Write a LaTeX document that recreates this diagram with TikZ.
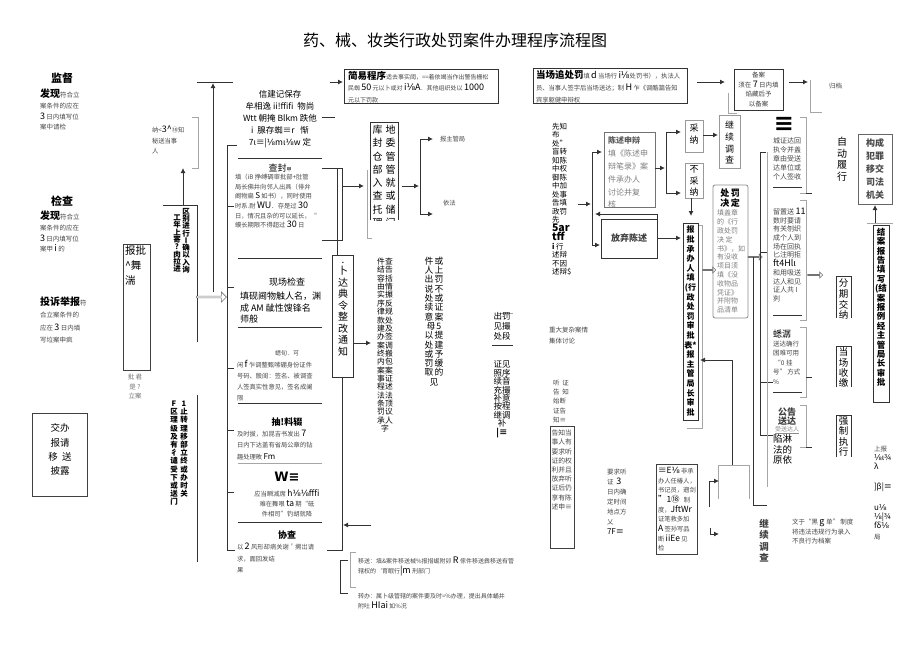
\documentclass[tikz,border=0pt]{standalone}
\usepackage{fontspec}
\setmainfont{Noto Sans CJK SC}
\newfontfamily\dvf{DejaVu Sans}
\usetikzlibrary{arrows.meta,shapes.arrows}
\newcommand\myfs[2]{\fontsize{#1}{#2}\selectfont}
\newcommand\ei{{\dvf ⅛}}
\begin{document}
\begin{tikzpicture}[x=1pt,y=-1pt,
  every node/.style={inner sep=0pt, outer sep=0pt},
  ln/.style={line width=0.9pt, draw=black!80},
  gl/.style={line width=0.8pt, draw=black!35},
  ar/.style={ln, -{Latex[length=5pt,width=5pt]}},
  gbx/.style={line width=0.8pt, draw=black!45},
  harr/.style={single arrow, draw=black!55, fill=white, minimum height=#1, minimum width=7pt, single arrow head extend=1.5pt, line width=0.6pt},
  sm/.style={font=\myfs{6.3}{9.7}, text=black!72, align=left, anchor=north west},
  vt/.style={align=center, anchor=north},
]
\useasboundingbox (0,0) rectangle (920,651);
\fill[white] (0,0) rectangle (920,651);

% title
\node[font=\myfs{16}{16}] (title) at (455,40) {药、械、妆类行政处罚案件办理程序流程图};

% left column
\node[font=\myfs{11}{11}\bfseries] (jd) at (62,78) {监督};
\node[sm, font=\myfs{6.5}{10.7}] (jdt) at (40,89) {{\myfs{10}{10.7}\bfseries\color{black}发现}符合立\\案条件的应在\\{\myfs{9}{10.7}\color{black}3} 日内填写位\\案中请检};
\node[font=\myfs{11}{11}\bfseries] (jc) at (62,201) {检查};
\node[sm, font=\myfs{6.5}{10.7}] (jct) at (40,211) {{\myfs{10}{10.7}\bfseries\color{black}发现}符合立\\案条件的应在\\{\myfs{9}{10.7}\color{black}3} 日内填写位\\案甲 {\myfs{9}{10.7}\color{black}i} 的};
\node[sm, font=\myfs{6.5}{12.3}] (ts) at (40,297) {{\myfs{10}{12.3}\bfseries\color{black}投诉举报}符\\合立案条件的\\应在 {\myfs{9}{12}\color{black}3} 日内填\\写垃案申疯};

\node[draw=black!75, line width=0.9pt, minimum width=55pt, minimum height=83pt] (jbb) at (59.5,454.5) {};
\node[align=center, font=\myfs{9.5}{14.3}] (jbt) at (60,449.5) {交办\\报请\\移\ \ 送\\披露};

\node[draw=black!75, line width=0.9pt, minimum width=27pt, minimum height=126pt] (bpb) at (136.5,307) {};
\node[anchor=north west, align=left, font=\myfs{10.5}{15}] (bpt) at (125,246) {报批\\\^{}舞\\湍};
\node[align=center, font=\myfs{6.5}{9.5}, text=black!55] (pj) at (135,387) {批\ 君\\是\ ?\\立案};

% region box
\draw[ln] (163,205) -- (197,205) -- (197,342);
\node[vt, font=\myfs{7.5}{7.3}\bfseries] (qb1) at (186,208) {区\\别\\进\\行\\Ⅰ\\确\\以\\入\\询};
\node[vt, font=\myfs{7.5}{7.3}\bfseries] (qb2) at (177,215) {工\\年\\上\\寄\\?\\肉\\拉\\进};
\draw[ar] (183,205) -- (183,168);
\draw[gl] (192,117) -- (198,117) -- (198,168) -- (192,168);
\node[sm, font=\myfs{6.3}{10.5}] (nz) at (152,126) {纳<{\myfs{9}{10}\color{black}3\^{}}⑱知\\秘送当事\\人};
\draw[ln] (197,82) -- (233,82);
\draw[ar] (213,292) -- (213,83);
\node[harr=30pt, minimum width=10pt] (ha1) at (211,297) {};

\draw[ln] (197,395) -- (197,562);
\node[vt, font=\myfs{7.5}{8.2}\bfseries] (f1a) at (174,401) {F\\区\\理\\级\\及\\有\\彳\\谴\\受\\下\\或\\送\\门};
\node[vt, font=\myfs{7.5}{8.2}\bfseries] (f1b) at (184,401) {1\\止\\转\\理\\移\\部\\立\\终\\或\\办\\时\\关};

% bracket at 227
\draw[ln] (237,145) -- (227,145) -- (227,550) -- (235,550);
\foreach \yy in {206,287,368,430,492} \draw[ln] (227,\yy) -- (234,\yy);
\foreach \yy in {158,258,327,403,522} \draw[ln] (238,\yy) -- (322,\yy);
\draw[gl] (238,463) -- (322,463);

% column boxes text
\node[vt, font=\myfs{8.5}{12}] (b1) at (280,90) {信建记保存\\牟相逸 ii!ffifi\ \ 物尚\\Wtt 朝掩 Blkm 跌他\\i\ \ 腺存蜘≡r\ \ \ 惭\\7ι≡|\ei mι\ei w 定};
\node[font=\myfs{9}{9}] (b2h) at (280,168) {查封{\myfs{5}{5}甲}};
\node[sm] (b2) at (235,174) {填（iB 挣缚碉审批部+肚管\\局长佛井向邻人出具（俳弁\\阚物扁 {\myfs{8}{9}\color{black}S} 如书），同时使用\\时系.耐 {\myfs{9}{9}\color{black}WU}．存是过 {\myfs{9}{9}\color{black}30}\\日，情况且杂的可以延长，“\\蟆长期限不得超过 {\myfs{9}{9}\color{black}30} 日};
\node[font=\myfs{9}{9}] (b3h) at (287,282) {现场检查};
\node[anchor=north west, align=left, font=\myfs{9}{11.5}] (b3) at (240,292) {填砚阃物触人名，渊\\成 AM 龇性馊锋名\\师般};
\node[font=\myfs{6}{6}, text=black!70] (b4h) at (287,353) {蟋旬．可};
\node[sm, font=\myfs{6.3}{11}] (b4) at (237,360) {闲 {\myfs{9}{11}\color{black}f} 乍调整甄嗦硼身份证件\\号码、骰闺：签名、被调查\\人签真实性意见，签名成阑\\限};
\node[font=\myfs{9}{9}\bfseries] (b5h) at (287,422) {抽!料辍};
\node[sm, font=\myfs{6.3}{11.5}] (b5) at (237,430) {及时拔，加昆吉书发出 {\myfs{9}{11}\color{black}7}\\日内下达盖有省局公章的钻\\趣处理畋 {\myfs{8}{11}\color{black}Fm}};
\node[font=\myfs{13}{13}\bfseries\dvf] (b6h) at (287,477) {W≡};
\node[vt, font=\myfs{6.3}{10}, text=black!72] (b6) at (287,490) {应当瞬减席 {\myfs{8.5}{10}\color{black}h\ei\ei fffi}\\难在舞哏 {\myfs{8.5}{10}\color{black}ta} 期“砥\\件相司”钓胡就降};
\node[font=\myfs{9}{9}\bfseries] (b7h) at (287,535) {协查};
\node[sm, font=\myfs{6.3}{11.5}] (b7) at (237,543) {以 {\myfs{9}{11}\color{black}2} 风形却病关谢＇搠岀请\\求，面回发结\\果};

% connectors right of column
\draw[ln] (322,117) -- (335,117);
\draw[ln] (322,168) -- (342,168) -- (342,240) -- (322,240);
\draw[ln] (337,168) -- (337,255);
\draw[ar] (342,186) -- (364,186);

% jianyi
\draw[ar] (330,82) -- (343,82);
\node[draw=black!80, line width=0.9pt, minimum width=154pt, minimum height=34pt] (jy) at (421,86) {};
\node[sm, font=\myfs{6}{11.5}] (jyt) at (348,71) {{\myfs{9.5}{11.5}\bfseries\color{black}简易程序}适去事实阈，==着依竭当作出警告栅松\\民蜘 {\myfs{9}{11.5}\color{black}50} 元以卜或对 {\myfs{9}{11.5}\color{black}i\ei A}．其他组织处以 {\myfs{9}{11.5}\color{black}1000}\\元以下罚款};

% kudi box
\draw[ln] (370,220) -- (370,122) -- (398,122) -- (398,220);
\draw[gl] (367,170) -- (367,238) -- (372,238);
\node[vt, font=\myfs{10}{13.3}] (kd) at (384,125) {库\hspace{3pt}地\\封\hspace{3pt}委\\仓\hspace{3pt}管\\部\hspace{3pt}管\\入\hspace{3pt}就\\查\hspace{3pt}或\\托\hspace{3pt}储\\理\hspace{3pt}门};
\fill[white] (369,221) rectangle (399,236);
\draw[ar] (402,186) -- (419,186);
\draw[ln] (420,139) -- (420,214);
\draw[ar] (420,139) -- (433,139);
\draw[ar] (420,214) -- (433,214);
\node[sm] (bzg) at (440,136) {报主管局};
\node[sm] (yf) at (443,200) {依法};

% xiada box
\node[draw=black!80, line width=0.9pt, minimum width=21pt, minimum height=122pt] (xd) at (342.5,316) {};
\node[vt, font=\myfs{10}{11.5}] (xdt) at (343,262) {.\\卜\\达\\典\\令\\整\\改\\通\\知};
\draw[ar] (353,343) -- (371,343);
\draw[ln] (342,377) -- (342,550) -- (327,550);
\draw[ar] (371,525) -- (343,525);

\node[vt, font=\myfs{7.8}{8.35}] (jc1) at (385,258) {件查\\结告\\容括\\由情\\实搌\\序反\\律规\\款处\\建及\\办签\\案调\\终搬\\内包\\案案\\事证\\程述\\法法\\条顶\\罚议\\承人\\字};
\node[vt, font=\myfs{8.8}{9.3}] (jh1) at (434,257) {件\hspace{1pt}或\\人\hspace{1pt}上\\出\hspace{1pt}罚\\说\hspace{1pt}不\\处\hspace{1pt}或\\续\hspace{1pt}证\\意\hspace{1pt}案\\母\hspace{1pt}5\\以\hspace{1pt}提\\处\hspace{1pt}建\\或\hspace{1pt}予\\罚\hspace{1pt}缓\\取\hspace{1pt}的\\见};
\draw[gl] (497,313) -- (513,313);
\node[vt, font=\myfs{8.5}{10}] (cf) at (502,312) {出罚\\见撮\\处段};
\draw[ln] (492,345) -- (513,345);
\node[vt, font=\myfs{8.5}{8.4}] (zj) at (502,361) {证见\\照序\\续音\\充撮\\补意\\按程\\继调\\补\ \\{\bfseries |≡}};

% bottom brackets
\draw[gl] (356,552) -- (350,552) -- (350,587) -- (356,587);
\draw[ln] (348,560) -- (340,560) -- (340,593) -- (348,593);
\node[sm, font=\myfs{6}{10}] (ys) at (358,557) {移送：填\&案件移送械\%报措崛附卯 {\myfs{9}{10}\color{black}R} 傢件移送彝移送有管\\辖权的`育眠行{\myfs{9}{10}\color{black}|m} 刑部门};
\node[sm, font=\myfs{6}{10}] (zb) at (358,593) {转办：属卜级管辖的案件要及时=\%办理，提出具体蛹井\\附吐 {\myfs{9}{10}\color{black}HIai} 如\%况};

% dangchang box
\node[draw=black!80, line width=0.9pt, minimum width=154pt, minimum height=35pt] (dc) at (610,85.5) {};
\node[sm, font=\myfs{6.3}{12.3}] (dct) at (536,70) {{\myfs{9.5}{12}\bfseries\color{black}当场追处罚}填 {\myfs{9}{12}\color{black}d} 当场行 {\myfs{9}{12}\color{black}i\ei}处罚书），执法人\\员、当事人签字后当场送达；制 {\myfs{9}{12}\color{black}H} 乍《调酷篇告知\\宾享躯健申辩权};
\draw[ar] (697,82) -- (725,82);
\draw[gl] (728,93) -- (728,113) -- (737,113);
\node[draw=black!80, line width=0.9pt, minimum width=49pt, minimum height=41pt] (ba) at (758.5,89.5) {};
\node[align=center, font=\myfs{6.5}{9.7}, text=black!75] (bat) at (758.5,89.5) {备案\\须在 {\myfs{9}{9}\color{black}7} 日内填\\焰藏后予\\以备案};
\draw[ar] (789,82) -- (808,82);
\draw[gl] (810,80) -- (810,112) -- (822,112);
\node[sm, font=\myfs{6.5}{9}] (gd) at (829,83) {归档};

% xianzhi column
\node[anchor=north west, align=left, font=\myfs{7.5}{8.5}] (xz) at (552,123) {先知\\布\\处"\\盲转\\知陈\\中权\\御陈\\中加\\处事\\告填\\政罚\\先\\{\myfs{10.5}{8.5}\bfseries 5ar}\\{\myfs{10.5}{8.5}\bfseries tff}\\{\bfseries i} 行\\述辩\\不因\\述辩\$};
\draw[ar] (578,204) -- (591,204);
\draw[ln] (592,152) -- (592,245);
\draw[ar] (592,152) -- (602,152);
\draw[ar] (592,245) -- (600,245);

\node[draw=black!55, line width=0.9pt, minimum width=51pt, minimum height=75pt] (cs) at (629.5,169.5) {};
\node[anchor=north west, align=left, font=\myfs{8}{12.8}, text=black!50] (cst) at (608,137) {{\bfseries\color{black!65}陈述申辩}\\填《陈述申\\辩笔录》案\\件承办人\\讨论并复\\核};
\draw[ar] (657,219) -- (657,214) -- (595,214);
\node[draw=black!80, line width=0.9pt, minimum width=56pt, minimum height=39pt] (fq) at (629,238.5) {};
\node[font=\myfs{9}{9}\bfseries, text=black!75] (fqt) at (629,238) {放弃陈述};
\draw[ar] (658,238) -- (681,238);
\draw[ar] (655,168) -- (665,168);
\draw[ln] (666,132) -- (666,193);
\draw[ar] (666,132) -- (681,132);
\draw[ar] (666,193) -- (681,193);

\node[draw=black!40, line width=0.9pt, minimum width=18pt, minimum height=32pt] (cn) at (694,136) {};
\node[vt, font=\myfs{9}{12.5}] (cnt) at (694,124) {采\\纳};
\node[draw=black!40, line width=0.9pt, minimum width=18pt, minimum height=35pt] (bcn) at (694,180.5) {};
\node[vt, font=\myfs{9}{11.5}] (bcnt) at (694,166) {不\\采\\纳};
\draw[ar] (703,135) -- (718,135);
\node[draw=black!40, line width=0.9pt, minimum width=21pt, minimum height=53pt] (jx) at (729.5,141.5) {};
\node[vt, font=\myfs{9}{11.8}] (jxt) at (729.5,121) {继\\续\\调\\查};
\draw[ar] (691,198) -- (691,216);

% baopi box
\node[draw=black!80, line width=0.9pt, minimum width=15pt, minimum height=197pt] (bp2) at (690.5,321.5) {};
\node[vt, font=\myfs{8}{9.6}\bfseries] (bp2t) at (690.5,226) {报\\批\\承\\办\\人\\填\\(行\\政\\处\\罚\\审\\批\\表*\\报\\主\\管\\局\\长\\审\\批};
\draw[gl] (699,225) -- (702,225) -- (702,428) -- (687,428);
\node[harr=13pt, minimum width=6pt] (ha2) at (709,270) {};

% chufa jueding
\draw[gbx, rounded corners=2pt] (713,185) rectangle (748,318);
\node[vt, font=\myfs{9}{9.5}\bfseries] (cfj) at (730,189) {处\,罚\\决\,定};
\node[anchor=north west, align=left, font=\myfs{7}{8.8}, text=black!50] (cfjt) at (717,210) {填盖章\\的《行\\政处罚\\决\ 定\\书》，如\\有没收\\项目须\\填《没\\收物品\\凭证》\\并附物\\品清单};
\node[harr=14pt, minimum width=6pt] (ha3) at (755,257) {};

% right lines
\draw[ln] (766,152) -- (760,152) -- (760,435) -- (773,435);
\draw[ln] (760,252) -- (767,252);
\draw[ln] (760,382) -- (773,382);
\draw[ln] (753,257) -- (753,505) -- (767,505);
\draw[gl] (767,152) -- (767,487);
\draw[gl] (800,117) -- (806,117) -- (806,193) -- (800,193);
\draw[gl] (800,200) -- (806,200) -- (806,320) -- (800,320);
\draw[gl] (800,327) -- (806,327) -- (806,397) -- (800,397);
\draw[gl] (800,405) -- (806,405) -- (806,447) -- (800,447);
\foreach \yy in {193,377,447} \draw[ln] (806,\yy) -- (812,\yy);
\node[harr=15pt, minimum width=6pt] (ha4) at (815,275) {};

% songda column
\node[font=\myfs{24}{24}\bfseries\dvf] (eq1) at (784,124) {≡};
\node[sm, font=\myfs{7}{8.8}] (s1) at (773,138) {城证达回\\执令并盖\\章由受送\\达单位或\\个人签收};
\draw[ln] (773,187) -- (802,187);
\node[sm, font=\myfs{7}{8.7}] (s2) at (773,208) {留置送 {\myfs{9}{8.7}\color{black}11}\\数时要请\\有关刎织\\成个人到\\场在回执\\匕注明拒\\{\myfs{9}{8.7}\color{black}ft4Hlι}\\和用吸送\\达人和见\\证人共 I\\刿};
\draw[ln] (773,315) -- (802,315);
\node[anchor=north west, font=\myfs{9}{9}] (s3h) at (773,330) {蟋潺};
\node[sm, font=\myfs{6.5}{9.5}] (s3) at (773,341) {送达确行\\困难可用\\\ “0 挂\\号” 方式\\\%};
\draw[ln] (773,392) -- (802,392);
\node[vt, font=\myfs{9}{9}\bfseries, text=black!75] (s4h) at (787,408) {公告\\送达};
\node[font=\myfs{6}{6}, text=black!45] (s4s) at (787,430) {\underline{受送达人}};
\node[anchor=north west, align=left, font=\myfs{9.5}{10.5}] (s4) at (773,435) {陷淋\\法的\\原依};

% right-most
\node[vt, font=\myfs{10}{11.7}] (zd) at (842,137) {自\\动\\履\\行};
\node[draw=black!60, line width=0.9pt, minimum width=34pt, minimum height=70pt] (gc) at (875,169) {};
\node[vt, font=\myfs{9}{12.8}\bfseries, text=black!70] (gct) at (875,139) {构成\\犯罪\\移交\\司法\\机关};
\draw[gl] (867,223) -- (893,223);
\draw[ar] (875,223) -- (875,205);
\node[draw=black!80, line width=0.9pt, minimum width=16pt, minimum height=177pt] (ja) at (881,313.5) {};
\node[vt, font=\myfs{8.5}{9.4}\bfseries] (jat) at (881,228) {结\\案\\报\\告\\填\\写\\(结\\案\\报\\例\\经\\主\\管\\局\\长\\审\\批};
\draw[ln] (836,318) -- (836,276) -- (851,276) -- (851,318);
\node[vt, font=\myfs{9.5}{10.6}] (fq2) at (843.5,279) {分\\期\\交\\纳};
\draw[ln] (836,387) -- (836,346) -- (851,346) -- (851,387);
\node[vt, font=\myfs{9.5}{10.2}] (dcs) at (843.5,348) {当\\场\\收\\缴};
\draw[ln] (836,457) -- (836,415) -- (851,415) -- (851,457);
\node[vt, font=\myfs{9.5}{10.3}] (qz) at (843.5,417) {强\\制\\执\\行};

\node[sm, font=\myfs{6.5}{9}] (sb1) at (874,446) {上报\\{\myfs{8}{9}\color{black}\ei ι¾}\\{\myfs{8}{9}\color{black}λ}};
\node[sm, font=\myfs{8}{9}, text=black] (sb2) at (874,483) {]β|≡};
\node[sm, font=\myfs{8}{9}, text=black] (sb3) at (874,505) {u\ei\\\ei|¾\\fδ\ei};
\node[sm, font=\myfs{6.5}{9}] (sb4) at (874,534) {局};
\node[sm, font=\myfs{6.5}{9.7}] (hm) at (792,519) {文于“黑 {\myfs{9}{9}\color{black}g} 单” 制度\\将违法违规行为录入\\不良行为档案};

\begin{scope}
\clip (750,515) rectangle (780,562);
\node[vt, font=\myfs{9.5}{11.5}\bfseries, text=black!75] (jx2) at (764,519) {继\\续\\调\\查};
\end{scope}

% middle bottom
\node[sm, font=\myfs{6.5}{11}] (zd2) at (549,327) {重大复杂案情\\集体讨论};
\node[sm, font=\myfs{6.5}{9.2}] (tz) at (553,380) {听\ \ 证\\告\ \ 知\\始断\\证告\\知≡};
\node[draw=black!75, line width=0.9pt, minimum width=24pt, minimum height=122pt] (gz) at (562,487) {};
\node[sm, font=\myfs{6.8}{9.2}] (gzt) at (551.5,430) {告知当\\事人有\\要求听\\证的权\\利并且\\放弃听\\证后仍\\享有陈\\述申≡};
\node[sm, font=\myfs{6.5}{10}] (yq) at (607,469) {要求听\\证\ \ {\myfs{9}{10}\color{black}3}\\日内确\\定时间\\地点方\\乂\\{\myfs{8}{10}\color{black}7F≡}};
\node[draw=black!75, line width=0.9pt, minimum width=41pt, minimum height=90pt] (eb) at (676.5,509) {};
\node[sm, font=\myfs{6.3}{9.7}] (ebt) at (658,467) {{\myfs{8.5}{9.7}\color{black}≡E\ei} 非承\\办人任椿人，\\书记员，遡剑\\{\myfs{8.5}{9.7}\color{black}"1⑱}\ \ \ 制\\度，{\myfs{8.5}{9.7}\color{black}JftWr}\\证笔救多加\\{\myfs{8.5}{9.7}\color{black}A} 签孙写品\\断 {\myfs{8.5}{9.7}\color{black}iiEe} 见\\检};
\draw[gl] (718,499) -- (718,465) -- (749,465) -- (749,499);
\draw[ar] (732,465) -- (732,360) -- (700,360);
\draw[ar] (709,507) -- (709,481) -- (719,481);
\draw[ar] (710,528) -- (710,534) -- (719,534);

\end{tikzpicture}
\end{document}
